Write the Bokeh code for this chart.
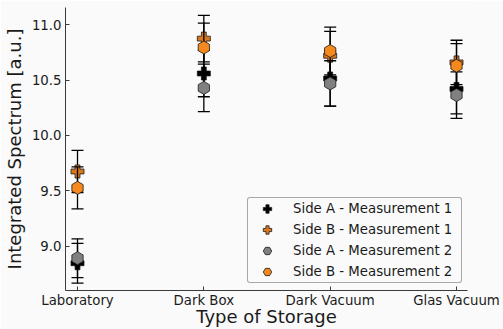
import numpy as np
from bokeh.plotting import figure
from bokeh.models import FixedTicker, Legend, LegendItem, Range1d, NumeralTickFormatter
from bokeh.embed import file_html
from bokeh.resources import INLINE

# Integrated spectrum per storage type, two sides, two measurements
storage_types = ["Laboratory", "Dark Box", "Dark Vacuum", "Glas Vacuum"]

side_a_m1 = [8.846, 10.56, 10.515, 10.42]
side_a_m1_err = [0.18, 0.21, 0.25, 0.225]

side_b_m1 = [9.675, 10.875, 10.72, 10.66]
side_b_m1_err = [0.19, 0.21, 0.22, 0.20]

side_a_m2 = [8.892, 10.43, 10.47, 10.365]
side_a_m2_err = [0.175, 0.215, 0.205, 0.21]

side_b_m2 = [9.527, 10.795, 10.763, 10.63]
side_b_m2_err = [0.19, 0.22, 0.215, 0.20]

y_ticks = [9.0, 9.5, 10.0, 10.5, 11.0]

FONT = "DejaVu Sans"
BG = "#fafafa"

x = list(range(len(storage_types)))

p = figure(width=503, height=329, output_backend="svg", toolbar_location=None,
           x_range=Range1d(-0.095, 3.087), y_range=Range1d(8.60, 11.156),
           min_border_left=65, min_border_right=36, min_border_top=7,
           min_border_bottom=39)
p.background_fill_color = BG
p.border_fill_color = BG
p.outline_line_color = None
p.grid.visible = False

series = [
    ("Side A - Measurement 1", side_a_m1, side_a_m1_err, "plus", "#000000", 13, 0.0),
    ("Side B - Measurement 1", side_b_m1, side_b_m1_err, "plus", "#d9771f", 13, 0.0),
    ("Side A - Measurement 2", side_a_m2, side_a_m2_err, "hex", "#808080", 13, np.pi / 2),
    ("Side B - Measurement 2", side_b_m2, side_b_m2_err, "hex", "#f5891d", 13, np.pi / 2),
]

items = []
for label, vals, errs, marker, color, size, ang in series:
    lo = [v - e for v, e in zip(vals, errs)]
    hi = [v + e for v, e in zip(vals, errs)]
    p.segment(x0=x, y0=lo, x1=x, y1=hi, line_color="black", line_width=1.3)
    p.scatter(x=x, y=lo, marker="dash", size=12, line_color="black", line_width=1.3)
    p.scatter(x=x, y=hi, marker="dash", size=12, line_color="black", line_width=1.3)
    r = p.scatter(x=x, y=vals, marker=marker, size=size, angle=ang,
                  fill_color=color, line_color="#1a1a1a", line_width=0.8)
    items.append(LegendItem(label=label, renderers=[r]))

legend = Legend(items=items, location=(182, 7))
legend.label_text_font = FONT
legend.label_text_font_size = "13.3px"
legend.label_text_color = "#1a1a1a"
legend.label_height = 21
legend.glyph_height = 21
legend.glyph_width = 38
legend.label_width = 168
legend.label_standoff = 7
legend.spacing = 0
legend.padding = 0
legend.margin = 0
legend.border_line_color = "#555555"
legend.border_line_width = 1
legend.border_radius = 3
legend.background_fill_color = BG
legend.background_fill_alpha = 0.9
p.add_layout(legend)

# x axis: categories at integer positions
p.xaxis.ticker = FixedTicker(ticks=x)
p.xaxis.major_label_overrides = {i: s for i, s in enumerate(storage_types)}
p.xaxis.axis_label = "Type of Storage"

# y axis
p.yaxis.ticker = FixedTicker(ticks=y_ticks)
p.yaxis.formatter = NumeralTickFormatter(format="0.0")
p.yaxis.axis_label = "Integrated Spectrum [a.u.]"

for ax in (p.xaxis, p.yaxis):
    ax.axis_line_color = "#3a3a3a"
    ax.axis_line_width = 1
    ax.major_tick_in = 4
    ax.major_tick_out = 0
    ax.minor_tick_in = 0
    ax.minor_tick_out = 0
    ax.major_tick_line_color = "#3a3a3a"
    ax.major_label_text_font = FONT
    ax.major_label_text_font_size = "13.3px"
    ax.major_label_text_color = "#1a1a1a"
    ax.axis_label_text_font = FONT
    ax.axis_label_text_font_size = "18px"
    ax.axis_label_text_font_style = "normal"
    ax.axis_label_text_color = "#1a1a1a"

p.xaxis.major_label_standoff = 2
p.xaxis.axis_label_standoff = -5
p.yaxis.major_label_standoff = 4
p.yaxis.axis_label_standoff = 4

open("out.html", "w").write(file_html(p, INLINE))
